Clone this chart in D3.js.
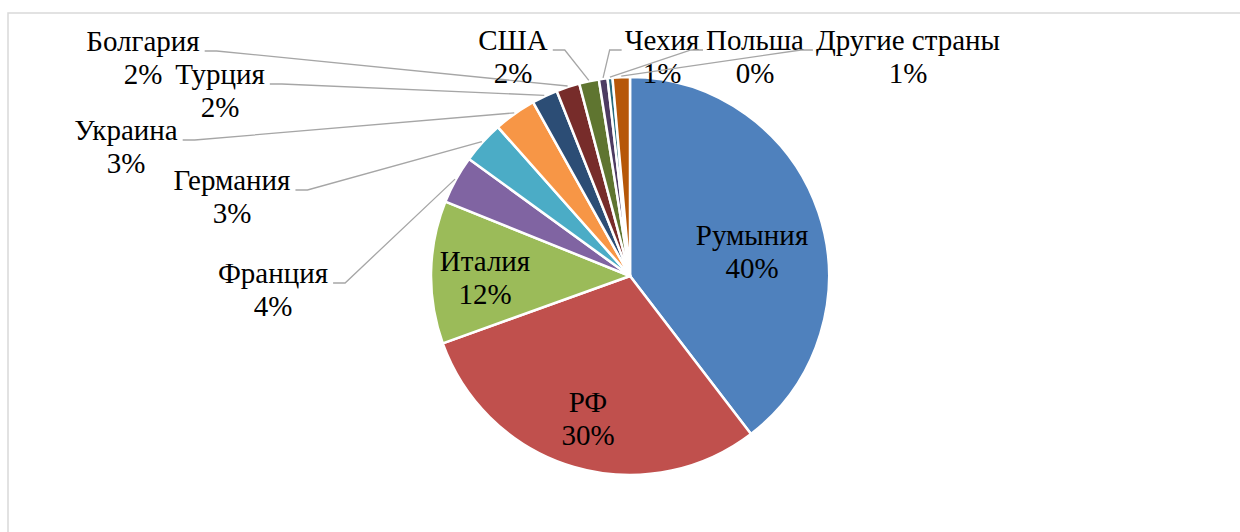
<!DOCTYPE html>
<html>
<head>
<meta charset="utf-8">
<script src="https://d3js.org/d3.v7.min.js"></script>
<style>
body { margin: 0; background: #fff; }
</style>
</head>
<body>
<svg id="chart" width="1240" height="532"></svg>
<script>
const countries = ["Румыния", "РФ", "Италия", "Франция", "Германия", "Украина", "Турция", "Болгария", "США", "Чехия", "Польша", "Другие страны"];
const shares = [39.6, 29.9, 11.6, 3.9, 3.45, 3.45, 2.1, 1.9, 1.6, 0.7, 0.4, 1.4];
const colors = ["#4F81BD", "#C0504D", "#9BBB59", "#8064A2", "#4BACC6", "#F79646",
                "#2C4D75", "#772C2A", "#5F7530", "#4D3B62", "#276A7C", "#B65708"];

// label layout (centre x, first baseline), leader leaves from the "side" of the label
const labelPos = [
  {x: 752, y: 245},
  {x: 588, y: 412},
  {x: 485, y: 271},
  {x: 273, y: 283, side: "right"},
  {x: 232, y: 190, side: "right"},
  {x: 126, y: 140, side: "right"},
  {x: 220, y: 84, side: "right"},
  {x: 143, y: 51, side: "right"},
  {x: 513, y: 50, side: "right"},
  {x: 662, y: 50, side: "left"},
  {x: 755, y: 50, side: "left"},
  {x: 908, y: 50, side: "left"}
];

const cx = 630, cy = 276, R = 199, lineH = 33;

const svg = d3.select("#chart")
  .style("font-family", "'Liberation Serif', serif")
  .attr("font-size", 29);

// chart frame
svg.append("rect")
  .attr("x", 8).attr("y", 13)
  .attr("width", 1400).attr("height", 700)
  .attr("fill", "none")
  .attr("stroke", "#d9d9d9")
  .attr("stroke-width", 1.5);

const data = countries.map((c, i) => ({name: c, value: shares[i], color: colors[i], pos: labelPos[i]}));

const pie = d3.pie().sort(null).value(d => d.value);
const arcs = pie(data);
const arc = d3.arc().innerRadius(0).outerRadius(R);
const edge = d3.arc().innerRadius(R + 1).outerRadius(R + 1);

const g = svg.append("g").attr("transform", `translate(${cx},${cy})`);

g.selectAll("path.slice")
  .data(arcs)
  .enter().append("path")
  .attr("class", "slice")
  .attr("d", arc)
  .attr("fill", d => d.data.color)
  .attr("stroke", "#fff")
  .attr("stroke-width", 2.5)
  .attr("stroke-linejoin", "round");

const total = d3.sum(shares);
const pct = v => Math.round(v / total * 100) + "%";

const labels = svg.append("g");
arcs.forEach(d => {
  const p = d.data.pos;
  const t = labels.append("text").attr("text-anchor", "middle").attr("fill", "#000");
  t.append("tspan").attr("x", p.x).attr("y", p.y).text(d.data.name);
  t.append("tspan").attr("x", p.x).attr("y", p.y + lineH).text(pct(d.data.value));

  if (!p.side) return;
  const w = t.select("tspan").node().getComputedTextLength();
  const end = edge.centroid(d);
  const ex = cx + end[0], ey = cy + end[1];
  let x0, x1;
  if (p.side === "right") { x0 = p.x + w / 2 + 5; x1 = x0 + 12; }
  else { x0 = p.x - w / 2 - 3; x1 = x0 - 12; }
  labels.append("path")
    .attr("d", d3.line()([[x0, p.y], [x1, p.y], [ex, ey]]))
    .attr("fill", "none")
    .attr("stroke", "#a6a6a6")
    .attr("stroke-width", 1.3);
});
</script>
</body>
</html>
